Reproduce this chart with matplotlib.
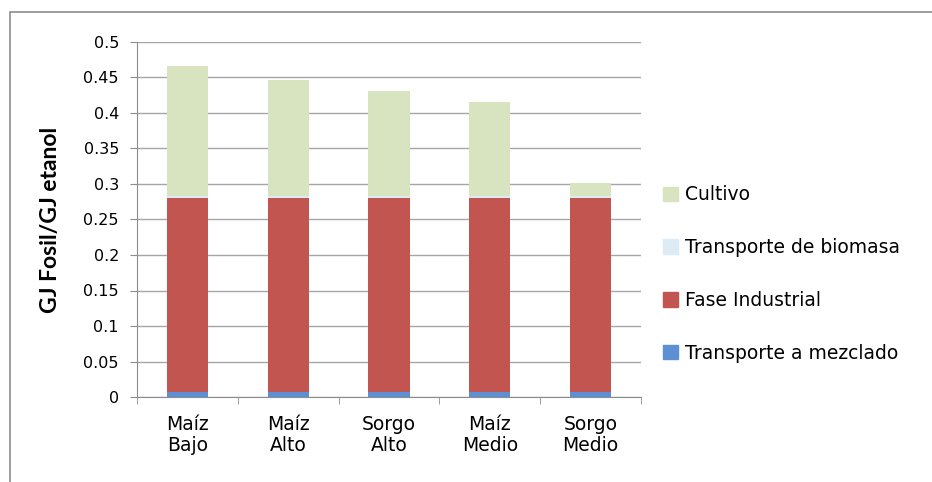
import numpy as np
import matplotlib.pyplot as plt
from matplotlib.patches import Rectangle, Patch

categories = ["Maíz\nBajo", "Maíz\nAlto", "Sorgo\nAlto", "Maíz\nMedio", "Sorgo\nMedio"]
transporte_mezclado = [0.007, 0.007, 0.007, 0.007, 0.007]
fase_industrial = [0.273, 0.273, 0.273, 0.273, 0.273]
transporte_biomasa = [0.003, 0.003, 0.003, 0.003, 0.003]
cultivo = [0.183, 0.163, 0.148, 0.132, 0.018]

series = ["Transporte a mezclado", "Fase Industrial", "Transporte de biomasa", "Cultivo"]
colors = ["#5B90D5", "#C2554F", "#DCEBF5", "#D8E4BF"]

fig = plt.figure(figsize=(9.32, 4.82), dpi=100)
ax = fig.add_axes([137/932, 1 - 397/482, 504/932, 355/482])

# outer chart frame
fig.patches.append(Rectangle((10/932, -0.1), 1.2, 1 - 12/482 + 0.1,
                             transform=fig.transFigure, fill=False,
                             edgecolor="#8C8C8C", linewidth=1.2))

x = np.arange(len(categories))
bottom = np.zeros(len(categories))
for name, vals, c in zip(series, [transporte_mezclado, fase_industrial, transporte_biomasa, cultivo], colors):
    ax.bar(x, vals, width=0.41, bottom=bottom, color=c, label=name, zorder=3)
    bottom += np.array(vals)

ax.set_xlim(-0.5, len(categories) - 0.5)
ax.set_ylim(0, 0.5)
ax.set_yticks(np.arange(0, 0.51, 0.05))
ax.set_yticklabels(["0", "0.05", "0.1", "0.15", "0.2", "0.25", "0.3", "0.35", "0.4", "0.45", "0.5"])
ax.yaxis.grid(True, color="#A6A6A6", linewidth=1, zorder=0)
ax.set_axisbelow(True)

ax.set_xticks(x)
ax.set_xticklabels(categories, fontsize=13.5, linespacing=1.15)
ax.set_xticks(np.arange(-0.5, len(categories), 1), minor=True)
ax.tick_params(axis="x", which="major", length=0, pad=13)
ax.tick_params(axis="x", which="minor", length=5, color="#8C8C8C")
ax.tick_params(axis="y", length=5, color="#8C8C8C", labelsize=11.5, pad=8)

for s in ["top", "right"]:
    ax.spines[s].set_visible(False)
for s in ["left", "bottom"]:
    ax.spines[s].set_color("#8C8C8C")

ax.set_ylabel("GJ Fosil/GJ etanol", fontsize=16.5, fontweight="bold", family="Lato")
ax.yaxis.set_label_coords(-0.15, 0.5)

handles = [Patch(color=c) for c in colors][::-1]
labels = series[::-1]
fig.legend(handles, labels, loc="center left", bbox_to_anchor=(646/932, 1 - 274/482),
           frameon=False, fontsize=13.5, handlelength=0.8, handleheight=0.8,
           handletextpad=0.4, labelspacing=1.8)

fig.savefig("out.png", dpi=100)
